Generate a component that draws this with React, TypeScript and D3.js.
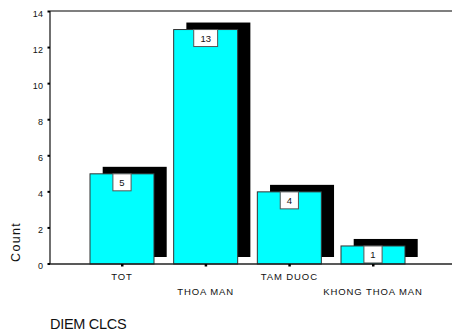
import React from "react";
import * as d3 from "d3";

// Frequency of DIEM CLCS categories
const categories = ["TOT", "THOA MAN", "TAM DUOC", "KHONG THOA MAN"];
const counts = [5, 13, 4, 1];
const yTicks = [0, 2, 4, 6, 8, 10, 12, 14];

const W = 452;
const H = 330;
const FONT = "'Liberation Sans', Arial, Helvetica, sans-serif";

export default function App() {
  const x = d3
    .scaleBand<string>()
    .domain(categories)
    .range([50, 445])
    .paddingInner(0.235)
    .paddingOuter(0.478);
  const y = d3.scaleLinear().domain([0, 14]).range([264, 11.5]);
  const y0 = y(0);
  const bw = x.bandwidth();
  const shadowDx = 12.7;
  const shadowDy = -7;

  return (
    <svg
      width={W}
      height={H}
      style={{ position: "absolute", left: 0, top: 0, background: "#fff" }}
      fontFamily={FONT}
    >
      {/* frame: top rule */}
      <line x1={50} x2={W} y1={11} y2={11} stroke="#555" strokeWidth={1.4} />

      {/* drop shadows */}
      {categories.map((c, i) => (
        <rect
          key={"s" + c}
          x={(x(c) as number) + shadowDx}
          y={y(counts[i]) + shadowDy}
          width={bw}
          height={y0 - y(counts[i])}
          fill="#000"
        />
      ))}

      {/* bars */}
      {categories.map((c, i) => (
        <rect
          key={"b" + c}
          x={x(c) as number}
          y={y(counts[i])}
          width={bw}
          height={y0 - y(counts[i])}
          fill="#00ffff"
          stroke="#333"
          strokeWidth={1}
        />
      ))}

      {/* value labels */}
      {categories.map((c, i) => {
        const label = String(counts[i]);
        const bx = (x(c) as number) + bw / 2;
        const top = Math.min(y(counts[i]), y0 - 12);
        const h = Math.min(17, y0 - top);
        const w = 12.5 + 5.7 * label.length;
        return (
          <g key={"v" + c}>
            <rect
              x={bx - w / 2}
              y={top}
              width={w}
              height={h}
              fill="#fff"
              stroke="#555"
              strokeWidth={1}
            />
            <text
              x={bx}
              y={top + h / 2 + 0.5}
              textAnchor="middle"
              dominantBaseline="central"
              fontSize={9.5}
              fill="#111"
            >
              {label}
            </text>
          </g>
        );
      })}

      {/* y axis */}
      <line x1={50} x2={50} y1={11} y2={y0} stroke="#222" strokeWidth={1.3} />
      {yTicks.map((t) => (
        <g key={"yt" + t}>
          <rect x={47.5} y={y(t) - 1} width={2.5} height={2} fill="#000" />
          <text
            x={43.5}
            y={y(t) + 2}
            textAnchor="end"
            dominantBaseline="central"
            fontSize={9}
            letterSpacing={0.4}
            fill="#111"
          >
            {t}
          </text>
        </g>
      ))}

      {/* x axis */}
      <line x1={50} x2={W} y1={y0} y2={y0} stroke="#222" strokeWidth={1.3} />
      {categories.map((c, i) => {
        const cx = (x(c) as number) + bw / 2;
        return (
          <g key={"xt" + c}>
            <rect x={cx - 1} y={y0} width={2.5} height={2.5} fill="#000" />
            <text
              x={cx}
              y={i % 2 === 0 ? 279.5 : 294.5}
              textAnchor="middle"
              fontSize={9.5}
              letterSpacing={0.9}
              fill="#111"
            >
              {c}
            </text>
          </g>
        );
      })}

      {/* axis titles */}
      <text
        transform="translate(20,242) rotate(-90)"
        textAnchor="middle"
        fontSize={12.5}
        letterSpacing={1.3}
        fill="#111"
      >
        Count
      </text>
      <text x={50} y={328.5} fontSize={14.5} letterSpacing={-0.3} fill="#111">
        DIEM CLCS
      </text>
    </svg>
  );
}
